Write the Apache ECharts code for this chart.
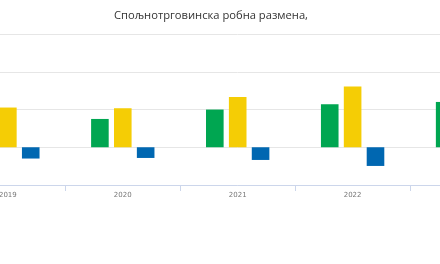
<!DOCTYPE html>
<html>
<head>
<meta charset="utf-8">
<title>echarts</title>
<script src="https://cdn.jsdelivr.net/npm/echarts@6/dist/echarts.min.js"></script>
<style>
  body { margin: 0; padding: 0; background: #fff; overflow: hidden; }
  /* графикон је шири од прозора, види се само средњи део */
  #main { width: 575px; height: 264px; margin-left: -50px; }
</style>
</head>
<body>
<div id="main"></div>
<script>
// године и вредности (мил. EUR)
const years = ['2019', '2020', '2021', '2022', '2023'];
const izvoz = [18800, 18740, 24970, 28480, 30000];
const uvoz = [26300, 25830, 33310, 40200, 37500];
const saldo = [-7480, -7090, -8410, -12380, -7500];
const yTicks = [-25000, 0, 25000, 50000, 75000];

const myChart = echarts.init(document.getElementById('main'));
const bar = (name, data, color) => ({
  name: name,
  type: 'bar',
  data: data,
  barWidth: 17.6,
  barGap: '30%',
  itemStyle: { color: color },
  emphasis: { disabled: true },
});
myChart.setOption({
  animation: false,
  title: {
    text: 'Спољнотрговинска робна размена,',
    left: 256,
    textAlign: 'center',
    top: 5,
    textStyle: { fontFamily: 'Open Sans', fontSize: 11.2, fontWeight: 'normal', color: '#333' },
  },
  grid: { left: 0.4, right: 0, top: 34, bottom: 79, containLabel: false },
  xAxis: {
    type: 'category',
    data: years,
    axisLine: { onZero: false, lineStyle: { color: '#ccd6eb' } },
    axisTick: { show: true, length: 6, lineStyle: { color: '#ccd6eb' } },
    axisLabel: { color: '#777', fontSize: 7, fontFamily: 'DejaVu Sans', margin: 7 },
  },
  yAxis: {
    type: 'value',
    min: yTicks[0],
    max: yTicks[yTicks.length - 1],
    interval: 25000,
    axisLabel: { show: false },
    splitLine: { lineStyle: { color: '#e6e6e6' } },
  },
  series: [
    bar('Извоз', izvoz, '#00a651'),
    bar('Увоз', uvoz, '#f5cd05'),
    bar('Салдо', saldo, '#0067b1'),
  ],
});
</script>
</body>
</html>
